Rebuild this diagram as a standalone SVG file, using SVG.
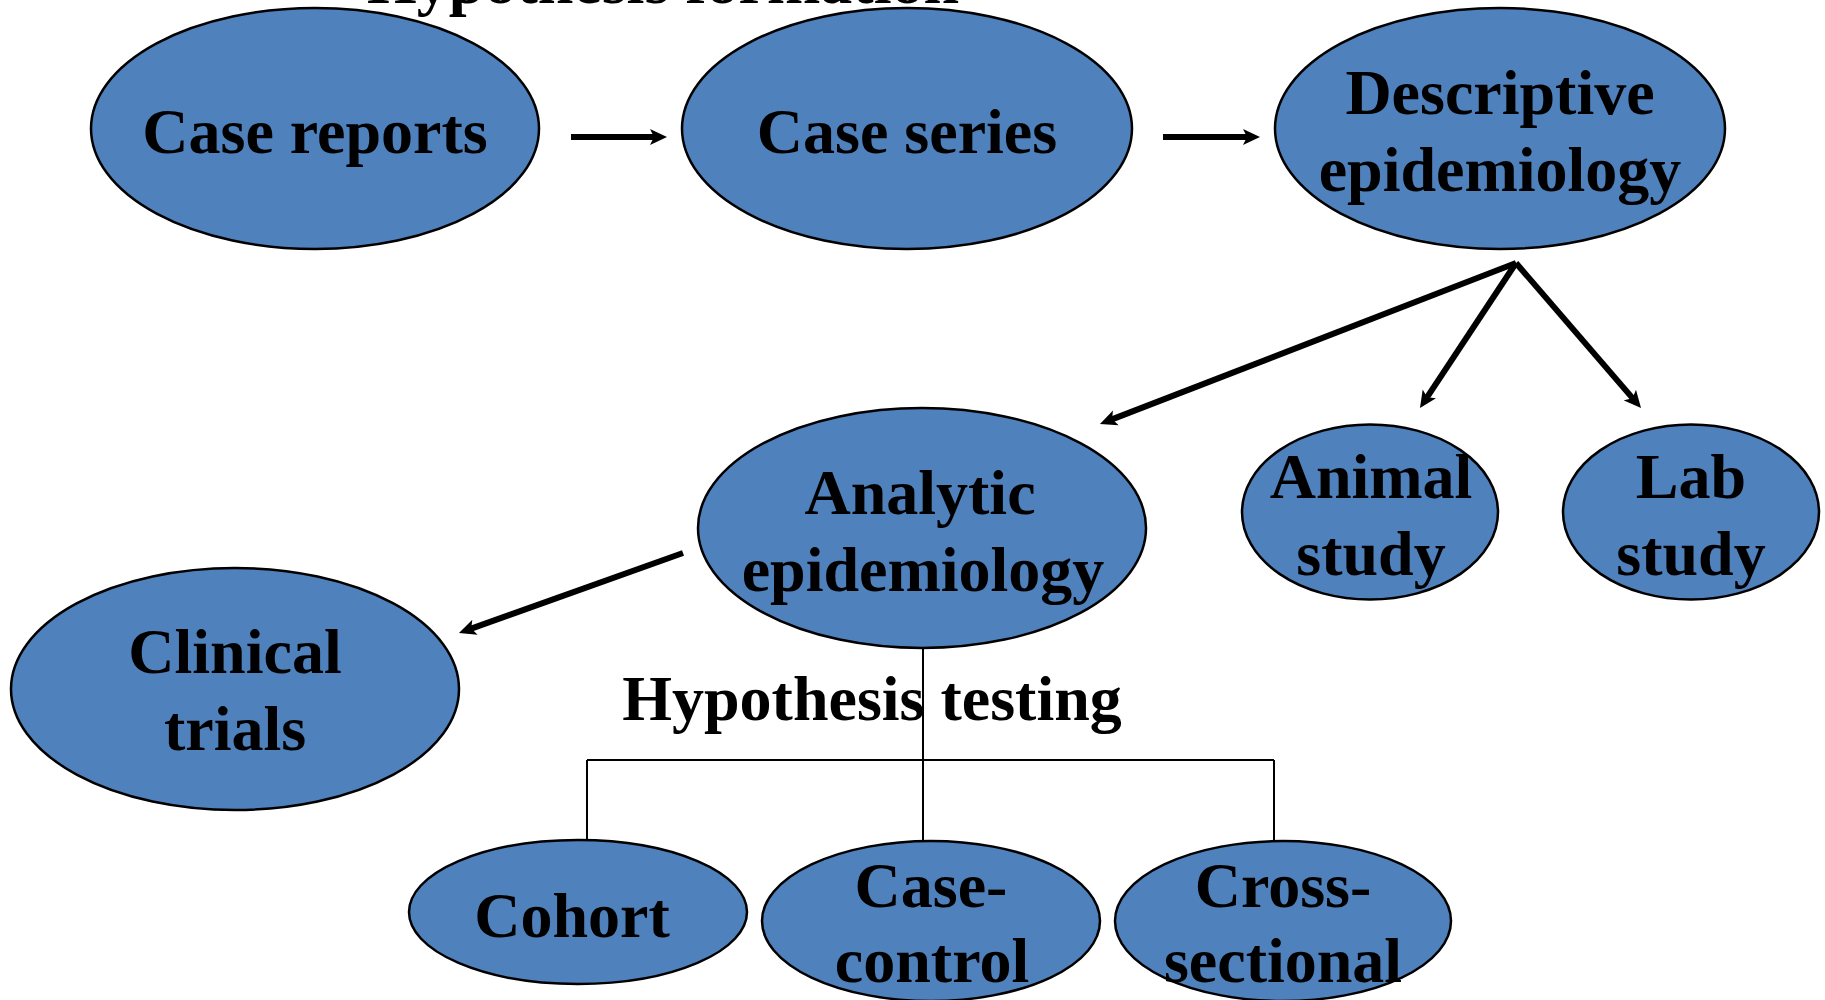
<svg xmlns="http://www.w3.org/2000/svg" width="1825" height="1000" viewBox="0 0 1825 1000">
  <style>
    .node ellipse { fill: #4F81BD; stroke: #000; stroke-width: 2.5; }
    text { font-family: "Liberation Serif", "Times New Roman", serif; font-weight: bold; font-size: 64px; fill: #000; text-anchor: middle; }
    .arrow { stroke: #000; stroke-width: 6; fill: none; marker-end: url(#head); }
    .tree { stroke: #000; stroke-width: 2; fill: none; }
  </style>
  <defs>
    <marker id="head" markerUnits="userSpaceOnUse" viewBox="0 -9 18 18" markerWidth="18" markerHeight="18" refX="7" refY="0" orient="auto">
      <path d="M0,-8 L17,0 L0,8 L4,0 Z" fill="#000"/>
    </marker>
  </defs>
  <rect width="1825" height="1000" fill="#fff"/>

  <!-- section heading, mostly above the top edge -->
  <text x="663" y="3">Hypothesis formation</text>

  <g id="connectors">
    <line class="arrow" x1="571" y1="137" x2="657" y2="137"/>
    <line class="arrow" x1="1163" y1="137" x2="1250" y2="137"/>
    <line class="arrow" x1="1516" y1="263" x2="1109.3" y2="420.4"/>
    <line class="arrow" x1="1516" y1="263" x2="1425.5" y2="399.7"/>
    <line class="arrow" x1="1516" y1="263" x2="1634.5" y2="400.4"/>
    <line class="arrow" x1="683" y1="553" x2="468.4" y2="629.6"/>
    <!-- hypothesis-testing tree -->
    <line class="tree" x1="923" y1="648" x2="923" y2="841"/>
    <line class="tree" x1="587" y1="760" x2="1274" y2="760"/>
    <line class="tree" x1="587" y1="760" x2="587" y2="840"/>
    <line class="tree" x1="1274" y1="760" x2="1274" y2="841"/>
  </g>

  <text x="872" y="720">Hypothesis testing</text>

  <g id="case-reports" class="node">
    <ellipse cx="315" cy="128.5" rx="224" ry="120.5"/>
    <text x="315" y="153">Case reports</text>
  </g>
  <g id="case-series" class="node">
    <ellipse cx="907" cy="128.5" rx="225" ry="120.5"/>
    <text x="907" y="153">Case series</text>
  </g>
  <g id="descriptive" class="node">
    <ellipse cx="1500" cy="128.5" rx="225" ry="120.5"/>
    <text x="1500" y="114">Descriptive</text>
    <text x="1500" y="191">epidemiology</text>
  </g>
  <g id="analytic" class="node">
    <ellipse cx="922" cy="528" rx="224" ry="120"/>
    <text x="920" y="514">Analytic</text>
    <text x="923" y="591">epidemiology</text>
  </g>
  <g id="animal" class="node">
    <ellipse cx="1370" cy="512" rx="128" ry="87.5"/>
    <text x="1371" y="498">Animal</text>
    <text x="1371" y="575">study</text>
  </g>
  <g id="lab" class="node">
    <ellipse cx="1691" cy="512" rx="128" ry="87.5"/>
    <text x="1691" y="498">Lab</text>
    <text x="1691" y="575">study</text>
  </g>
  <g id="clinical" class="node">
    <ellipse cx="235" cy="689" rx="224" ry="121"/>
    <text x="235" y="673">Clinical</text>
    <text x="235" y="750">trials</text>
  </g>
  <g id="cohort" class="node">
    <ellipse cx="578" cy="912" rx="169" ry="72"/>
    <text x="572" y="937">Cohort</text>
  </g>
  <g id="case-control" class="node">
    <ellipse cx="931" cy="921" rx="169" ry="80"/>
    <text x="931" y="907">Case-</text>
    <text x="932" y="982">control</text>
  </g>
  <g id="cross-sectional" class="node">
    <ellipse cx="1283" cy="921" rx="168" ry="80"/>
    <text x="1283" y="907">Cross-</text>
    <text x="1283" y="982">sectional</text>
  </g>
</svg>
